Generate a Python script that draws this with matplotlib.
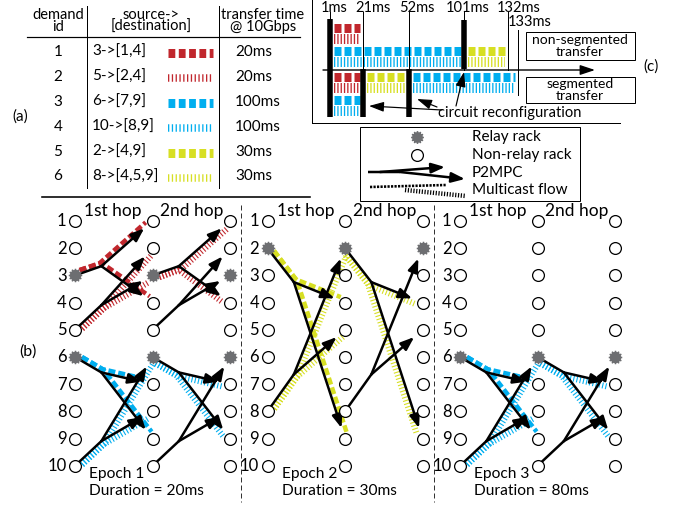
import numpy as np
import matplotlib
matplotlib.use('Agg')
import matplotlib.pyplot as plt
from matplotlib.patches import FancyArrowPatch, Rectangle

plt.rcParams['font.family'] = ['Lato', 'DejaVu Sans']

# demands (table a)
demand_ids = [1, 2, 3, 4, 5, 6]
demand_src = [3, 5, 6, 10, 2, 8]
demand_dst = ['[1,4]', '[2,4]', '[7,9]', '[8,9]', '[4,9]', '[4,5,9]']
transfer_ms = [20, 20, 100, 100, 30, 30]
demand_color = ['#c1272d', '#c1272d', '#00aeef', '#00aeef', '#d7df23', '#d7df23']
demand_solid = [True, False, True, False, True, False]

# timeline (c): (demand index, row, start ms, end ms)
event_ms = [1, 21, 52, 101, 132, 133]
nonseg_sched = [(0, 0, 1, 21), (1, 1, 1, 21), (2, 2, 1, 101), (3, 3, 1, 101),
                (4, 2, 101, 132), (5, 3, 101, 132)]
seg_sched = [(0, 0, 1, 21), (1, 1, 1, 21), (2, 2, 1, 21), (3, 3, 1, 21),
             (4, 0, 21, 52), (5, 1, 21, 52), (2, 0, 52, 133), (3, 1, 52, 133)]
reconf_nonseg = [1, 101]
reconf_seg = [1, 21, 52]

# epochs (b)
epoch_names = ['Epoch 1', 'Epoch 2', 'Epoch 3']
epoch_ms = [20, 30, 80]
epoch_relays = [[3, 6], [2], [6]]
racks = list(range(1, 11))
# circuits: (hop, source rack, [main dst, other dst], demand carried or None)
epoch_circuits = [
    [(1, 3, [1, 4], 0), (1, 5, [2, 3], 1), (2, 3, [1, 4], 1), (2, 5, [2, 3], None),
     (1, 6, [7, 9], 2), (1, 10, [8, 6], 3), (2, 6, [7, 9], 3), (2, 10, [8, 6], None)],
    [(1, 2, [4, 9], 4), (1, 8, [5, 2], 5), (2, 2, [4, 9], 5), (2, 8, [5, 2], None)],
    [(1, 6, [7, 9], 2), (1, 10, [8, 6], 3), (2, 6, [7, 9], 3), (2, 10, [8, 6], None)],
]

W, H = 677, 505
PT = 0.72  # points per pixel
GRAY = '#6d6e71'
FS = 10.5
LW = 2.5  # circuit line width in px

fig = plt.figure(figsize=(W / 100, H / 100), dpi=100)
ax = fig.add_axes([0, 0, 1, 1])
ax.set_xlim(0, W)
ax.set_ylim(H, 0)
ax.axis('off')


def pattern(xs, ys, color, solid, width, on, off, z=1):
    ax.plot(xs, ys, color=color, lw=width * PT, linestyle=(0, (on / width, off / width)),
            dash_capstyle='butt', solid_capstyle='butt', zorder=z)


def arrow(p0, p1, lw=LW, hl=0.8, hw=0.3, z=3):
    ax.add_patch(FancyArrowPatch(p0, p1, arrowstyle=f'-|>,head_length={hl},head_width={hw}',
                                 mutation_scale=10, lw=lw * PT, color='k',
                                 shrinkA=0, shrinkB=0, zorder=z))


def unit(v):
    return v / np.linalg.norm(v)


def offset_path(pts, sign, d):
    pts = np.asarray(pts, float)
    seg = np.diff(pts, axis=0)
    nrm = np.stack([seg[:, 1], -seg[:, 0]], axis=1)
    nrm = sign * nrm / np.linalg.norm(nrm, axis=1)[:, None]
    vn = np.vstack([nrm[:1], (nrm[:-1] + nrm[1:]) / 2, nrm[-1:]])
    return pts + d * vn


# ---------------- (a) table ----------------
hdr = dict(ha='center', va='center', fontsize=FS, linespacing=0.88)
ax.text(58, 21, 'demand\nid', **hdr)
ax.text(151, 21, 'source->\n[destination]', **hdr)
ax.text(263, 21, 'transfer time\n@ 10Gbps', **hdr)
ax.plot([27, 300], [37, 37], color='k', lw=1.2 * PT)
ax.plot([87, 87], [6, 188], color='k', lw=1.0 * PT)
ax.plot([219, 219], [6, 188], color='k', lw=1.0 * PT)
ax.plot([42, 310], [197, 197], color='k', lw=1.6 * PT)
ax.text(20, 117, '(a)', ha='center', va='center', fontsize=11)

for i, did in enumerate(demand_ids):
    y = 52 + 24.9 * i
    ax.text(58, y, str(did), ha='center', va='center', fontsize=11)
    ax.text(92, y, f'{demand_src[i]}->{demand_dst[i]}', ha='left', va='center', fontsize=11)
    ax.text(235, y, f'{transfer_ms[i]}ms', ha='left', va='center', fontsize=11)
    if demand_solid[i]:
        pattern([168, 213], [y + 1, y + 1], demand_color[i], True, 9, 6.8, 3.5)
    else:
        pattern([168, 213], [y + 1, y + 1], demand_color[i], False, 7.5, 1.3, 2.5)

# ---------------- (c) timeline ----------------
tl_px = [330, 363, 409, 464, 508, 518]
label_dx = [4, 10, 8, 4, 11, 12]


def tx(t):
    return np.interp(t, event_ms, tl_px)


ax.plot([312, 312], [0, 123], color='k', lw=1.0 * PT)
ax.plot([312, 620], [123, 123], color='k', lw=1.0 * PT)

nonseg_rows = [28, 39, 51, 62]
seg_rows = [77, 88, 100, 111]
for sched, rows in ((nonseg_sched, nonseg_rows), (seg_sched, seg_rows)):
    for d, r, t0, t1 in sched:
        x0, x1 = tx(t0) + 4, tx(t1) - 3
        y = rows[r]
        if demand_solid[d]:
            pattern([x0, x1], [y, y], demand_color[d], True, 9, 7, 3)
        else:
            pattern([x0, x1], [y, y], demand_color[d], False, 10, 1.3, 2.0)

for t, dx in zip(event_ms, label_dx):
    x = tx(t)
    if t == 133:
        ax.plot([x, x], [30, 95], color='k', lw=1.0 * PT, zorder=2)
        ax.text(x + dx, 22, f'{t}ms', ha='center', va='center', fontsize=10.5)
    else:
        ax.plot([x, x], [12, 70], color='k', lw=1.0 * PT, zorder=2)
        ax.text(x + dx, 8, f'{t}ms', ha='center', va='center', fontsize=10.5)

for t in reconf_nonseg:
    ax.plot([tx(t), tx(t)], [19 if t == 1 else 20, 69], color='k', lw=5.5 * PT,
            solid_capstyle='butt', zorder=3)
for t in reconf_seg:
    ax.plot([tx(t), tx(t)], [69, 117], color='k', lw=5.5 * PT, solid_capstyle='butt', zorder=3)

ax.add_patch(FancyArrowPatch((323, 70), (595, 70), arrowstyle='-|>,head_length=0.9,head_width=0.3',
                             mutation_scale=10, lw=1.4 * PT, color='k', shrinkA=0, shrinkB=0,
                             zorder=3))

ax.add_patch(Rectangle((526, 32), 109, 28, fill=False, lw=1.0 * PT, ec='k'))
ax.text(580, 46, 'non-segmented\ntransfer', ha='center', va='center', fontsize=10,
        linespacing=0.9)
ax.add_patch(Rectangle((526, 77), 109, 26, fill=False, lw=1.0 * PT, ec='k'))
ax.text(580, 90, 'segmented\ntransfer', ha='center', va='center', fontsize=10,
        linespacing=0.9)
ax.text(651, 67, '(c)', ha='center', va='center', fontsize=11)

ax.text(438, 113, 'circuit reconfiguration', ha='left', va='center', fontsize=FS)
arrow((442, 110), (369, 106), lw=1.2, hl=0.9, hw=0.3)
arrow((437, 107), (417, 99), lw=1.2, hl=0.9, hw=0.3)
arrow((456, 106), (464, 72), lw=1.2, hl=0.9, hw=0.3)

# ---------------- legend ----------------
ax.add_patch(Rectangle((360, 127), 220, 74, fill=False, lw=1.0 * PT, ec='k'))
ax.plot(417, 137, marker='o', ms=6.5, color=GRAY, ls='none')
ax.plot(417, 137, marker=(12, 1, 0), ms=9, color=GRAY, ls='none')
ax.plot(417, 155, marker='o', ms=8.5, mfc='white', mec='k', mew=0.9, ls='none')
ax.plot([368, 400], [172, 172], color='k', lw=LW * PT, solid_capstyle='butt')
arrow((380, 172), (445, 167))
arrow((400, 172), (465, 179))
pattern([370, 446], [187, 185], 'k', True, 2.6, 2.2, 1.3)
pattern([405, 466], [190, 196], 'k', False, 4.5, 1.2, 1.6)
ax.text(472, 137, 'Relay rack', ha='left', va='center', fontsize=11)
ax.text(472, 155, 'Non-relay rack', ha='left', va='center', fontsize=11)
ax.text(472, 173, 'P2MPC', ha='left', va='center', fontsize=11)
ax.text(472, 190, 'Multicast flow', ha='left', va='center', fontsize=11)

# ---------------- (b) epochs ----------------
ep_x0 = [75 + 192.5 * e for e in range(3)]
col_dx = 77.5
row_y0, row_dy = 221, 27.2


def node_xy(e, col, r):
    return np.array([ep_x0[e] + col * col_dx, row_y0 + (r - 1) * row_dy])


ax.text(28, 352, '(b)', ha='center', va='center', fontsize=11.5)

for e in range(3):
    x0 = ep_x0[e]
    ax.text(x0 + 38, 211, '1st hop', ha='center', va='center', fontsize=12.5)
    ax.text(x0 + 117, 211, '2nd hop', ha='center', va='center', fontsize=12.5)
    ax.text(x0 + 14, 474, epoch_names[e], ha='left', va='center', fontsize=11.2)
    ax.text(x0 + 14, 491, f'Duration = {epoch_ms[e]}ms', ha='left', va='center', fontsize=11.2)
    if e < 2:
        xs = x0 + 2 * col_dx + 11
        ax.plot([xs, xs], [205, 502], color='#333333', lw=1.0 * PT, ls=(0, (5, 3)))

    for r in racks:
        ax.text(x0 - 8.5, row_y0 + (r - 1) * row_dy + 0.5, str(r), ha='right', va='center',
                fontsize=12)
        for col in range(3):
            x, y = node_xy(e, col, r)
            if r in epoch_relays[e]:
                ax.plot(x, y, marker='o', ms=7, color=GRAY, ls='none', zorder=4)
                ax.plot(x, y, marker=(12, 1, 0), ms=9.5, color=GRAY, ls='none', zorder=4)
            else:
                ax.plot(x, y, marker='o', ms=8.5, mfc='white', mec='k', mew=0.9,
                        ls='none', zorder=4)

    for hop, s, dsts, dem in epoch_circuits[e]:
        src = node_xy(e, hop - 1, s)
        d1, d2 = node_xy(e, hop, dsts[0]), node_xy(e, hop, dsts[1])
        tgt = (2 * d1 + d2) / 3
        br = src + 0.34 * (tgt - src)
        # multicast flow alongside the circuit
        if dem is not None:
            solid = demand_solid[dem]
            for d in (d1, d2):
                p0 = src + 6 * unit(br - src)
                p2 = d - 6 * unit(d - br)
                pts = offset_path([p0, br, p2], 1 if solid else -1, 3.5 if solid else 4.0)
                if solid:
                    pattern(pts[:, 0], pts[:, 1], demand_color[dem], True, 4.5, 7, 3)
                else:
                    pattern(pts[:, 0], pts[:, 1], demand_color[dem], False, 6, 1.1, 2.2)
        # P2MPC circuit
        p0 = src + 6 * unit(br - src)
        ax.plot([p0[0], br[0]], [p0[1], br[1]], color='k', lw=LW * PT,
                solid_capstyle='round', zorder=3)
        for d in (d1, d2):
            tip = d - 11 * unit(d - br)
            arrow(br, tip)

fig.savefig('out.png', dpi=100)
